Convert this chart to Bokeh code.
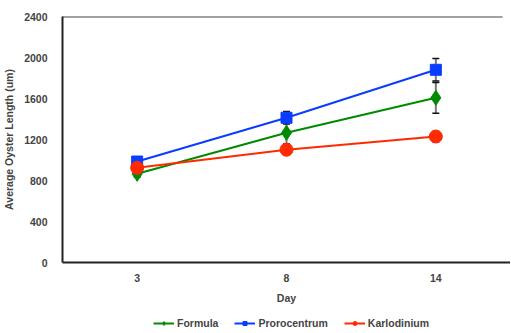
from bokeh.plotting import figure
from bokeh.layouts import column
from bokeh.models import (FactorRange, Range1d, FixedTicker, Whisker, TeeHead,
                          ColumnDataSource, Legend, LinearAxis, CategoricalAxis)
from bokeh.embed import file_html
from bokeh.resources import INLINE

days = ["3", "8", "14"]
formula = [865, 1265, 1607]
formula_err = [30, 110, 150]
proro = [985, 1412, 1880]
proro_err = [30, 60, 110]
karlo = [924, 1100, 1229]
karlo_err = [20, 30, 50]

FONT = "Liberation Sans"
FS = "10.5px"

p = figure(x_range=FactorRange(*days, start=0, end=2.947, range_padding=0),
           y_range=Range1d(0, 2400),
           frame_width=448, frame_height=246, output_backend="svg", toolbar_location=None,
           min_border_top=16, min_border_left=54, min_border_right=0, min_border_bottom=50,
           outline_line_color=None, x_axis_location=None, y_axis_location=None)
p.grid.visible = False

yax = LinearAxis(ticker=FixedTicker(ticks=[0, 400, 800, 1200, 1600, 2000, 2400]),
                 axis_label="Average Oyster Length (um)")
yax.axis_line_width = 2
yax.axis_line_color = "#222222"
yax.major_tick_line_color = None
yax.minor_tick_line_color = None
yax.major_label_text_font = FONT
yax.major_label_text_font_style = "bold"
yax.major_label_text_font_size = FS
yax.major_label_standoff = 9
yax.axis_label_text_font = FONT
yax.axis_label_text_font_style = "bold"
yax.axis_label_text_font_size = FS
yax.axis_label_standoff = 6
p.add_layout(yax, "left")

xax = CategoricalAxis(axis_label="Day")
xax.axis_line_width = 2
xax.axis_line_color = "#222222"
xax.major_tick_line_color = None
xax.minor_tick_line_color = None
xax.major_label_text_font = FONT
xax.major_label_text_font_style = "bold"
xax.major_label_text_font_size = FS
xax.major_label_standoff = 5
xax.axis_label_text_font = FONT
xax.axis_label_text_font_style = "bold"
xax.axis_label_text_font_size = FS
xax.axis_label_standoff = 7
p.add_layout(xax, "below")

series = [
    ("Formula", formula, formula_err, "#008a00", "diamond", 15),
    ("Prorocentrum", proro, proro_err, "#0a3cff", "square", 11),
    ("Karlodinium", karlo, karlo_err, "#ff2a00", "circle", 13),
]

for name, vals, err, color, marker, size in series:
    src = ColumnDataSource(dict(x=days, y=vals,
                                lo=[v - e for v, e in zip(vals, err)],
                                hi=[v + e for v, e in zip(vals, err)]))
    w = Whisker(source=src, base="x", upper="hi", lower="lo",
                line_color="#777777", line_width=2,
                upper_head=TeeHead(size=7, line_color="#111111", line_width=1.5),
                lower_head=TeeHead(size=7, line_color="#111111", line_width=1.5))
    p.add_layout(w)

for name, vals, err, color, marker, size in series:
    src = ColumnDataSource(dict(x=days, y=vals))
    p.line("x", "y", source=src, line_color=color, line_width=2)
    p.scatter("x", "y", source=src, marker=marker, size=size,
              fill_color=color, line_color=color)

# top frame edge (right side of the frame is outside the visible area)
p.line(x=[0, 2.947], y=[2400, 2400], line_color="#444444", line_width=2)

# legend strip below the chart (its own renderers lie outside its visible range)
lg = figure(x_range=FactorRange(*days), y_range=Range1d(10000, 10001),
            width=503, height=21, output_backend="svg", toolbar_location=None,
            min_border=0, outline_line_color=None,
            x_axis_location=None, y_axis_location=None)
lg.grid.visible = False
items = []
for name, vals, err, color, marker, size in series:
    src = ColumnDataSource(dict(x=days, y=vals))
    l = lg.line("x", "y", source=src, line_color=color, line_width=2)
    s = lg.scatter("x", "y", source=src, marker=marker, size=size * 0.6,
                   fill_color=color, line_color=color)
    items.append((name, [l, s]))

legend = Legend(items=items, orientation="horizontal", location=(91, 4),
                label_text_font=FONT, label_text_font_style="bold",
                label_text_font_size=FS, glyph_width=21, glyph_height=10,
                label_standoff=3, spacing=16, padding=0, margin=0,
                border_line_color=None, background_fill_alpha=0)
lg.add_layout(legend, "center")

layout = column(p, lg, spacing=0)
open("out.html", "w").write(file_html(layout, INLINE))
